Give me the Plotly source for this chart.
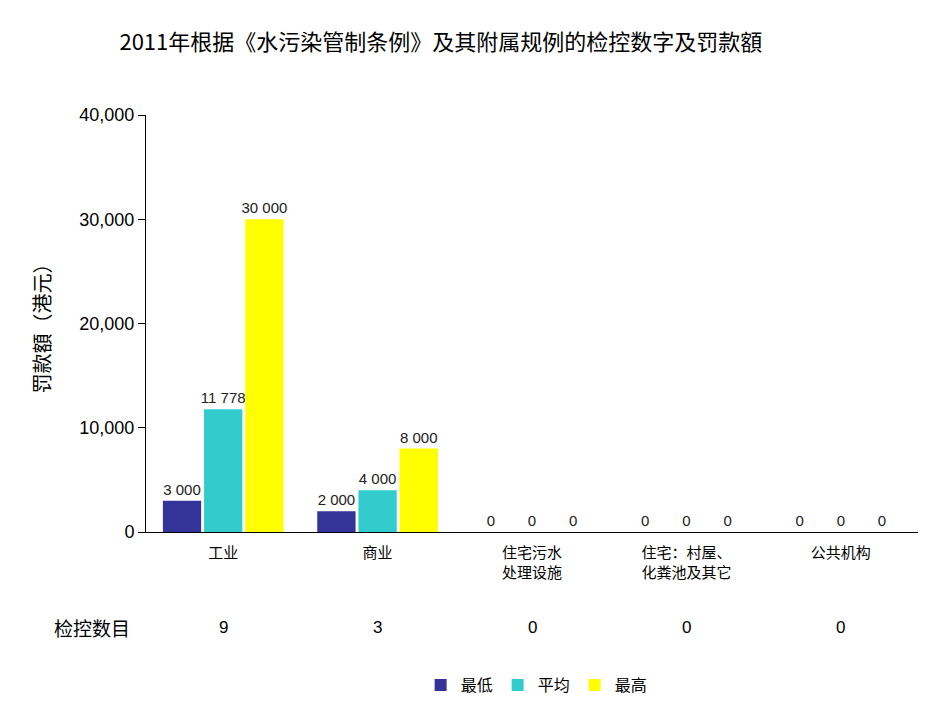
import plotly.graph_objects as go

categories = ["工业", "商业", "住宅污水<br>处理设施", "住宅：村屋、<br>化粪池及其它", "公共机构"]
series_names = ["最低", "平均", "最高"]
min_vals = [3000, 2000, 0, 0, 0]
avg_vals = [11778, 4000, 0, 0, 0]
max_vals = [30000, 8000, 0, 0, 0]
counts = [9, 3, 0, 0, 0]
colors = ["#333399", "#33CCCC", "#FFFF00"]

FONT = "Liberation Sans, Noto Sans CJK SC, sans-serif"
CJK = "Noto Sans CJK SC, Liberation Sans, sans-serif"

def fmt(v):
    return f"{v:,}".replace(",", " ")

fig = go.Figure()
for name, vals, col in zip(series_names, [min_vals, avg_vals, max_vals], colors):
    fig.add_trace(go.Bar(
        x=categories, y=vals, name=name,
        marker=dict(color=col, line=dict(width=0)),
        text=[fmt(v) for v in vals], textposition="outside",
        constraintext="none",
        textfont=dict(family=FONT, size=15, color="#222222"),
        cliponaxis=False,
    ))

for cat, c in zip(categories, counts):
    fig.add_annotation(x=cat, xref="x", y=-0.228, yref="paper", text=str(c),
                       showarrow=False, font=dict(family=FONT, size=17, color="#000000"),
                       yanchor="middle")
fig.add_annotation(x=-0.07, xref="paper", y=-0.228, yref="paper", text="检控数目",
                   showarrow=False, font=dict(family=CJK, size=19, color="#000000"),
                   yanchor="middle", xanchor="center")

fig.update_layout(
    width=939, height=712,
    margin=dict(l=138, r=29, t=107, b=188),
    paper_bgcolor="white", plot_bgcolor="white",
    title=dict(text="2011年根据《水污染管制条例》及其附属规例的检控数字及罚款額",
               x=0.461, xanchor="center", y=0.952, yanchor="middle",
               font=dict(family=CJK, size=22, color="#000000")),
    barmode="group", bargap=0.2, bargroupgap=0.07,
    showlegend=True,
    legend=dict(orientation="h", x=0.506, xanchor="center", y=-0.367, yanchor="middle",
                font=dict(family=CJK, size=16, color="#000000"),
                itemwidth=30, traceorder="normal", itemclick=False),
    font=dict(family=FONT),
)
fig.update_xaxes(showline=True, linecolor="#000000", linewidth=1, ticks="",
                 tickfont=dict(family=CJK, size=15, color="#000000"),
                 ticklabelstandoff=7,
                 showgrid=False)
fig.update_yaxes(range=[0, 40000], dtick=10000, tickformat=",", showline=True,
                 linecolor="#000000", linewidth=1, ticks="outside", ticklen=7,
                 tickcolor="#000000", showgrid=False, zeroline=False,
                 tickfont=dict(family=FONT, size=18, color="#000000"),
                 title=dict(text="罚款額（港元）", font=dict(family=CJK, size=20, color="#000000"),
                            standoff=23))

fig.write_html("out.html")
